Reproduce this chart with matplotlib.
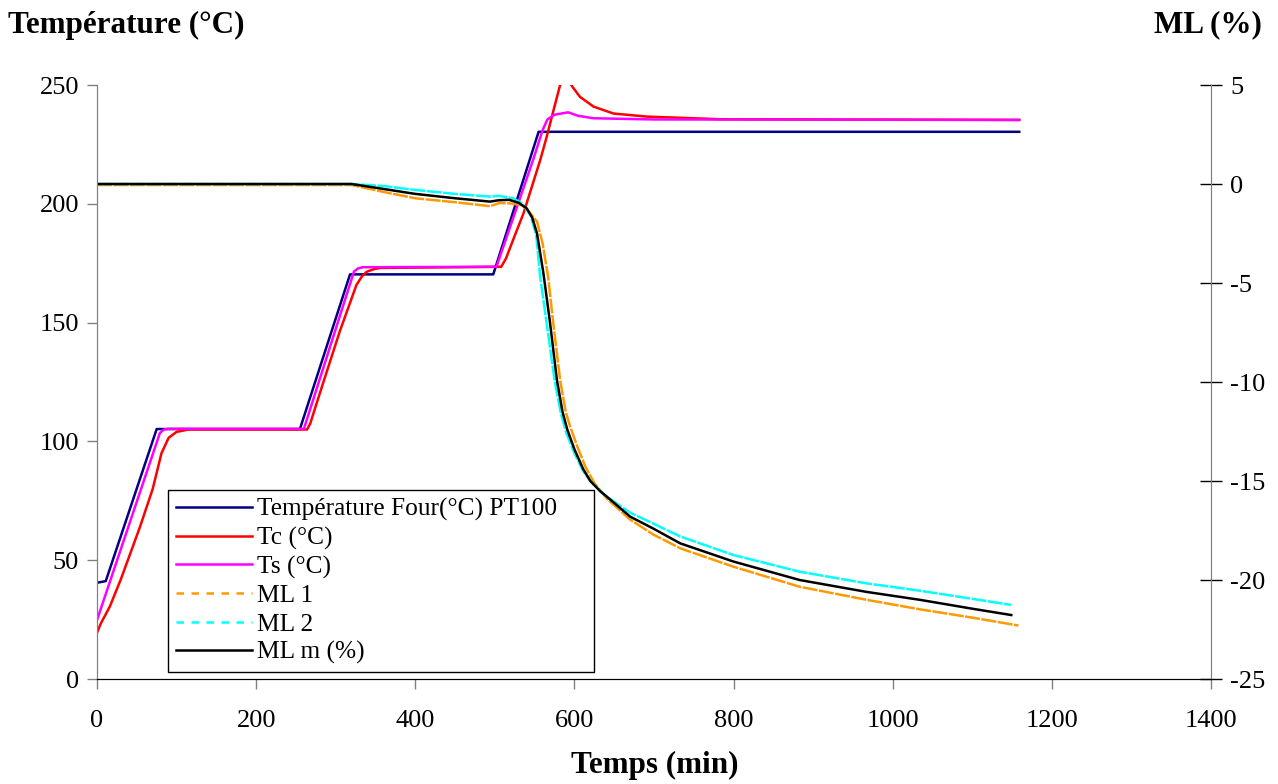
import matplotlib
matplotlib.use("Agg")
import matplotlib.pyplot as plt
from matplotlib.lines import Line2D

plt.rcParams['font.family'] = ['Liberation Serif', 'DejaVu Serif']
plt.rcParams['axes.unicode_minus'] = False

# ---- data ----
# Furnace temperature (PT100), left axis
four_t = [0, 11, 75, 255, 318, 498, 555, 1159]
four_v = [40.5, 41.2, 105.2, 105.2, 170.3, 170.3, 230.3, 230.3]

# Ts, left axis
ts_t = [0, 79, 84, 90, 260, 323, 328, 334, 502, 548, 560, 566, 575, 592, 605, 624, 700, 1159]
ts_v = [24.8, 103.5, 105.0, 105.3, 105.3, 171.5, 172.8, 173.3, 173.5, 218.4, 231.0, 235.5, 237.5, 238.5, 237.0, 236.0, 235.5, 235.3]

# Tc, left axis
tc_t = [0, 5, 16, 30, 54, 70, 81, 90, 100, 115, 264, 268, 272, 284, 305, 326, 333, 339, 348, 356, 508, 514, 522, 536, 557, 565, 575, 582, 590, 598, 607, 624, 649, 691, 783, 1159]
tc_v = [19.5, 23.5, 30.4, 42.0, 64.0, 80.0, 95.0, 101.5, 104.0, 105.0, 105.0, 107.5, 111.8, 124.4, 146.2, 165.8, 169.5, 171.4, 172.5, 173.0, 173.5, 177.0, 184.0, 196.0, 218.4, 228.0, 241.0, 250.0, 253.0, 249.0, 245.0, 240.9, 238.0, 236.7, 235.6, 235.3]

# ML 1, right axis
ml1_t = [0, 320, 360, 400, 450, 494, 506, 519, 532, 540, 553, 560, 567, 573, 582, 589, 595, 604, 614, 625, 641, 670, 699, 733, 800, 883, 967, 1034, 1100, 1158]
ml1_v = [-0.05, -0.05, -0.4, -0.72, -0.92, -1.12, -0.96, -0.98, -1.05, -1.25, -1.9, -3.0, -4.7, -6.9, -9.9, -11.5, -12.3, -13.3, -14.3, -15.1, -15.9, -16.95, -17.7, -18.4, -19.33, -20.34, -21.0, -21.48, -21.9, -22.3]

# ML 2, right axis
ml2_t = [0, 320, 360, 400, 450, 495, 505, 523, 535, 545, 552, 557, 566, 575, 583, 590, 600, 611, 620, 632, 641, 670, 699, 733, 800, 883, 967, 1034, 1100, 1149]
ml2_v = [0.0, 0.0, -0.1, -0.3, -0.5, -0.64, -0.6, -0.72, -1.0, -1.6, -2.6, -4.7, -7.3, -9.9, -11.6, -12.6, -13.6, -14.5, -15.0, -15.5, -15.8, -16.6, -17.15, -17.8, -18.74, -19.58, -20.17, -20.54, -20.95, -21.26]

# ML m, right axis
mlm_t = [0, 320, 360, 400, 450, 494, 505, 518, 530, 540, 547, 553, 561, 569, 578, 585, 591, 600, 611, 620, 632, 641, 670, 699, 733, 800, 883, 967, 1034, 1100, 1149]
mlm_v = [0.0, 0.0, -0.25, -0.5, -0.72, -0.89, -0.82, -0.8, -0.95, -1.23, -1.7, -2.5, -4.5, -6.9, -9.9, -11.5, -12.4, -13.4, -14.4, -15.0, -15.5, -15.8, -16.8, -17.4, -18.15, -19.07, -20.0, -20.6, -21.0, -21.45, -21.77]

labels = ["Température Four(°C) PT100", "Tc (°C)", "Ts (°C)", "ML 1", "ML 2", "ML m (%)"]
colors = ["#000080", "#FF0000", "#FF00FF", "#FF9900", "#00FFFF", "#000000"]

x_ticks = [0, 200, 400, 600, 800, 1000, 1200, 1400]
y_ticks = [0, 50, 100, 150, 200, 250]
y2_ticks = [-25, -20, -15, -10, -5, 0, 5]

FS = 19
LFS = 18.3
TFS = 22.4
LW = 1.8

fig = plt.figure(figsize=(12.78, 7.84), dpi=100)
ax = fig.add_axes([97/1278, 1-679/784, 1114/1278, 594/784])
ax2 = ax.twinx()

ax.plot(four_t, four_v, color=colors[0], lw=LW)
ax.plot(tc_t, tc_v, color=colors[1], lw=LW)
ax.plot(ts_t, ts_v, color=colors[2], lw=LW)
ax2.plot(ml1_t, ml1_v, color=colors[3], lw=LW, dashes=(6, 0.6))
ax2.plot(ml2_t, ml2_v, color=colors[4], lw=LW, dashes=(6, 0.6))
ax2.plot(mlm_t, mlm_v, color=colors[5], lw=LW)

ax.set_xlim(0, 1400)
ax.set_ylim(0, 250)
ax2.set_ylim(-25, 5)
ax.set_xticks(x_ticks)
ax.set_yticks(y_ticks)
ax2.set_yticks(y2_ticks)

grey = "#808080"
for a in (ax, ax2):
    a.spines['top'].set_visible(False)
    a.spines['left'].set_color(grey)
    a.spines['right'].set_color(grey)
    a.spines['bottom'].set_color('black')
    a.patch.set_visible(False)
ax.tick_params(axis='y', direction='out', length=7, width=1, color=grey, labelsize=FS, pad=6)
ax.tick_params(axis='x', direction='out', length=7, width=1, color=grey, labelsize=FS, pad=15)
ax2.tick_params(axis='y', direction='inout', length=16, width=1, color='black', labelsize=FS, pad=6)

fig.text(8/1278, 1-25/784, "Température (°C)", fontsize=TFS, fontweight='bold', ha='left', va='center')
fig.text(1262/1278, 1-25/784, "ML (%)", fontsize=TFS, fontweight='bold', ha='right', va='center')
fig.text(655/1278, 1-765/784, "Temps (min)", fontsize=TFS, fontweight='bold', ha='center', va='center')

handles = [
    Line2D([], [], color=colors[0], lw=LW),
    Line2D([], [], color=colors[1], lw=LW),
    Line2D([], [], color=colors[2], lw=LW),
    Line2D([], [], color=colors[3], lw=LW, dashes=(3, 3)),
    Line2D([], [], color=colors[4], lw=LW, dashes=(3, 3)),
    Line2D([], [], color=colors[5], lw=LW),
]
x0 = (168-97)/1114
y0 = (679-672)/594
w = (594-168)/1114
h = (672-493)/594
leg = ax2.legend(handles, labels, loc='lower left', bbox_to_anchor=(x0, y0, w, h), mode='expand',
                 fontsize=LFS, frameon=True, fancybox=False, edgecolor='black', framealpha=1,
                 borderpad=0.3, labelspacing=0.22, handlelength=3.0, handletextpad=0.22,
                 borderaxespad=0)
leg.get_frame().set_linewidth(1.0)

fig.savefig("out.png", dpi=100)
